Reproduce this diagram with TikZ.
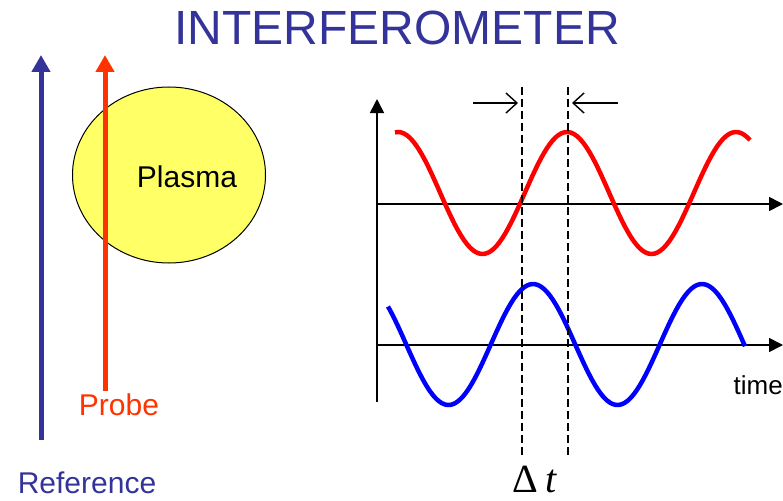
\documentclass[tikz,border=0pt]{standalone}
\usepackage{fontspec}
\setmainfont{Liberation Sans}
\newfontfamily\serifface{Liberation Serif}
\usetikzlibrary{arrows.meta, shapes.geometric}
\definecolor{refblue}{HTML}{333399}
\definecolor{probered}{HTML}{FF3300}
\definecolor{plasmayellow}{HTML}{FFFF66}

\begin{document}
\begin{tikzpicture}[x=1pt, y=-1pt,
    beam/.style={line width=5pt, -{Triangle[length=17pt, width=18pt]}},
    axis/.style={line width=1.6pt, -{Triangle[length=14pt, width=14pt]}},
    marker/.style={line width=1.4pt, dash pattern=on 8pt off 4pt},
    wave/.style={line width=4.5pt, domain=#1, samples=120, variable=\x},
    label/.style={inner sep=0pt, font=\fontsize{30}{30}\selectfont}]
  \useasboundingbox (0,0) rectangle (783,500);
  % Title
  \node[inner sep=0pt, text=refblue, font=\fontsize{48}{48}\selectfont] (title) at (397,28) {INTERFEROMETER};
  % Plasma
  \node[ellipse, draw, line width=1pt, fill=plasmayellow, minimum width=193pt, minimum height=176pt, inner sep=0pt] (plasma) at (169,175) {};
  \node[label] (plasmatext) at (187,177) {Plasma};
  % Beams
  \coordinate (refstart) at (41,440);
  \coordinate (refend) at (41,55);
  \coordinate (probestart) at (105,391);
  \coordinate (probeend) at (105,55);
  \draw[beam, refblue] (refstart) -- (refend);
  \draw[beam, probered] (probestart) -- (probeend);
  \node[label, text=probered] (probe) at (119,405) {Probe};
  \node[label, text=refblue] (reference) at (87,483) {Reference};
  % Axes
  \coordinate (origin) at (377,402);
  \coordinate (yend) at (377,99);
  \coordinate (topstart) at (377,204);
  \coordinate (topend) at (783,204);
  \coordinate (botstart) at (377,345);
  \coordinate (botend) at (783,345);
  \draw[axis] (origin) -- (yend);
  \draw[axis] (topstart) -- (topend);
  \draw[axis] (botstart) -- (botend);
  \node[anchor=east, inner sep=0pt, font=\fontsize{26}{26}\selectfont] (time) at (783,385) {time};
  % Signals
  \draw[wave=395:750, red] plot (\x, {193-61*cos(2.1302*(\x-567))});
  \draw[wave=388:745, blue] plot (\x, {344.5-60.5*cos(2.1302*(\x-533))});
  % Delay markers
  \coordinate (lefttop) at (522,87);
  \coordinate (leftbot) at (522,457);
  \coordinate (righttop) at (568,87);
  \coordinate (rightbot) at (568,457);
  \draw[marker] (lefttop) -- (leftbot);
  \draw[marker] (righttop) -- (rightbot);
  \coordinate (inleft) at (473,103);
  \coordinate (inleftend) at (518,103);
  \coordinate (inright) at (618,103);
  \coordinate (inrightend) at (572,103);
  \draw[line width=1.4pt, -{Straight Barb[length=11pt, width=20pt]}] (inleft) -- (inleftend);
  \draw[line width=1.4pt, -{Straight Barb[length=11pt, width=20pt]}] (inright) -- (inrightend);
  \node[inner sep=0pt, font=\serifface\fontsize{40}{40}\selectfont] (delta) at (535,479) {Δ\,\textit{t}};
\end{tikzpicture}
\end{document}
